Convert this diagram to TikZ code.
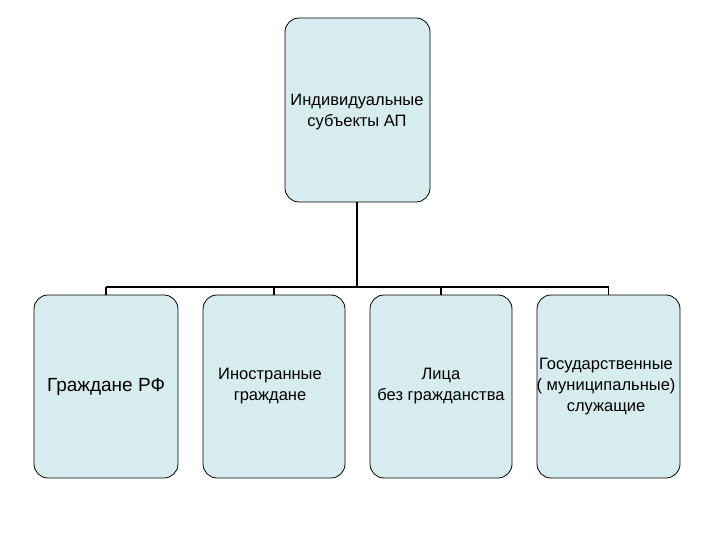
\documentclass[tikz,border=0pt]{standalone}
\usepackage{fontspec}
\setmainfont{Liberation Sans}
\begin{document}
\begin{tikzpicture}[x=1pt,y=-1pt,
  box/.style={draw=black,fill=boxfill,rounded corners=14pt,line width=0.8pt},
  lbl/.style={align=center,font=\fontsize{16.5}{21}\selectfont,inner sep=0pt},
  conn/.style={line width=1.6pt}]
\definecolor{boxfill}{HTML}{D7ECEE}
\useasboundingbox (0,0) rectangle (720,540);
\draw[box] (285,18) rectangle (430,202);
\node[lbl] (top) at (357,112) {Индивидуальные\\субъекты АП};
\coordinate (tb) at (357,202);
\coordinate (hy) at (357,287);
\foreach \i/\xa/\xb in {1/34/178,2/203/345,3/370/512,4/537/680}{
  \draw[box] (\xa,295) rectangle (\xb,478);
  \coordinate (b\i) at ({(\xa+\xb)/2},295);
  \coordinate (h\i) at ({(\xa+\xb)/2},287);
}
\draw[conn] (tb) -- (hy);
\draw[conn] (h1) -- (h4);
\foreach \i in {1,...,4}{\draw[conn] (h\i) -- (b\i);}
\node[lbl,font=\fontsize{19}{22}\selectfont] (n1) at (106,387) {Граждане РФ};
\node[lbl] (n2) at (270,386) {Иностранные\\граждане};
\node[lbl] (n3) at (441,386) {Лица\\без гражданства};
\node[lbl] (n4) at (606,387) {Государственные\\( муниципальные)\\служащие};
\end{tikzpicture}
\end{document}
